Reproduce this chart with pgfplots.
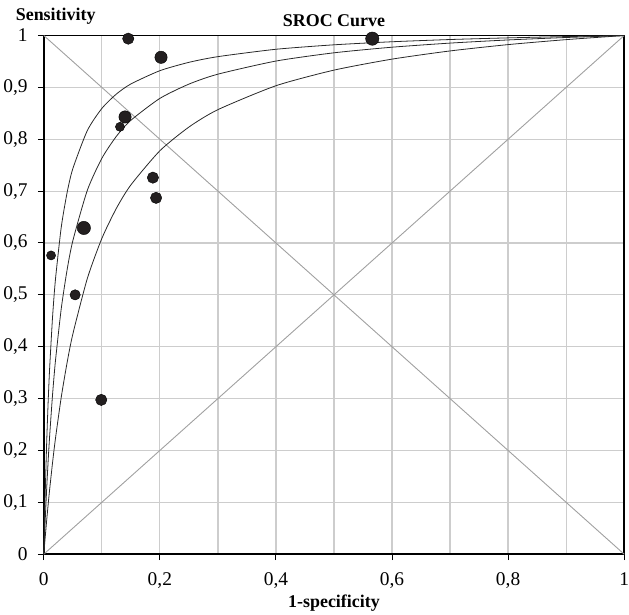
\documentclass[border=0pt]{standalone}
\usepackage{fontspec}
\setmainfont{Liberation Serif}
\usepackage{pgfplots}
\usepackage{pgfplotstable}
\pgfplotsset{compat=1.18}
\definecolor{gridgray}{RGB}{205,205,205}
\definecolor{diaggray}{RGB}{160,160,160}
\definecolor{dotblack}{RGB}{35,31,32}
\definecolor{curveblack}{RGB}{40,40,40}

% SROC curves (upper band, fitted curve, lower band)
\pgfplotstableread{
x      y
0      0
0.001  0.0522
0.002  0.0993
0.005  0.2165
0.0075 0.2936
0.01   0.3571
0.015  0.4558
0.02   0.5288
0.03   0.6298
0.04   0.6962
0.05   0.7432
0.075  0.8168
0.1    0.8594
0.125  0.8871
0.15   0.9066
0.2    0.9322
0.25   0.9483
0.3    0.9593
0.4    0.9735
0.5    0.9821
0.6    0.9880
0.7    0.9923
0.8    0.9955
0.9    0.9980
1      1
}\sroctop
\pgfplotstableread{
x      y
0      0
0.001  0.0282
0.002  0.0549
0.005  0.1272
0.0075 0.1798
0.01   0.2266
0.015  0.3063
0.02   0.3718
0.03   0.4728
0.04   0.5472
0.05   0.6042
0.075  0.7016
0.1    0.7632
0.125  0.8056
0.15   0.8365
0.2    0.8788
0.25   0.9063
0.3    0.9255
0.4    0.9508
0.5    0.9667
0.6    0.9775
0.7    0.9854
0.8    0.9915
0.9    0.9962
1      1
}\srocmid
\pgfplotstableread{
x      y
0      0
0.001  0.0138
0.002  0.0273
0.005  0.0657
0.0075 0.0957
0.01   0.1239
0.015  0.1757
0.02   0.2222
0.03   0.3022
0.04   0.3684
0.05   0.4242
0.075  0.5316
0.1    0.6087
0.125  0.6667
0.15   0.7119
0.2    0.7778
0.25   0.8235
0.3    0.8571
0.4    0.9032
0.5    0.9333
0.6    0.9545
0.7    0.9703
0.8    0.9825
0.9    0.9921
1      1
}\srocbot

\begin{document}
\begin{tikzpicture}
\begin{axis}[
  width=583pt, height=521pt, scale only axis,
  xmin=0, xmax=1, ymin=0, ymax=1,
  xtick={0,0.2,0.4,0.6,0.8,1},
  minor xtick={0.1,0.3,0.5,0.7,0.9},
  ytick={0,0.1,0.2,0.3,0.4,0.5,0.6,0.7,0.8,0.9,1},
  grid=both,
  major grid style={draw=gridgray, line width=1.2pt},
  minor grid style={draw=gridgray, line width=1.2pt},
  axis line style={line width=1.6pt, black},
  tick align=outside, tick pos=left,
  major tick length=6pt, minor tick length=0pt,
  tick style={black, line width=1pt},
  tick label style={font=\fontsize{19.5}{22}\selectfont},
  xticklabel style={anchor=north, inner sep=0pt, yshift=-12pt},
  yticklabel style={anchor=east, inner sep=0pt, xshift=-10pt},
  /pgf/number format/use comma,
  /pgf/number format/fixed,
  /pgf/number format/precision=1,
  /pgf/number format/assume math mode=true,
  xlabel={1-specificity}, ylabel={Sensitivity},
  every axis x label/.style={at={(axis description cs:0.5,0)}, anchor=base,
    yshift=-53.5pt, font=\bfseries\fontsize{18}{21}\selectfont},
  every axis y label/.style={at={(axis description cs:0,1)}, anchor=base west,
    xshift=-31.6pt, yshift=15pt, font=\bfseries\fontsize{18}{21}\selectfont},
  title={SROC Curve},
  every axis title/.style={at={(axis description cs:0.5,1)}, anchor=base,
    yshift=9pt, font=\bfseries\fontsize{18}{21}\selectfont},
  clip=false,
]
\coordinate (sw) at (rel axis cs:0,0);
\coordinate (ne) at (rel axis cs:1,1);
\addplot[diaggray, line width=0.9pt] coordinates {(0,0) (1,1)};
\addplot[diaggray, line width=0.9pt] coordinates {(0,1) (1,0)};
\addplot[curveblack, line width=0.8pt, smooth, tension=0.4] table[x=x,y=y] {\sroctop};
\addplot[curveblack, line width=0.8pt, smooth, tension=0.4] table[x=x,y=y] {\srocmid};
\addplot[curveblack, line width=0.8pt, smooth, tension=0.4] table[x=x,y=y] {\srocbot};
% study points, grouped by marker size
\addplot[only marks, mark=*, mark size=6.7pt, mark options={draw=none, fill=dotblack}]
  coordinates {(0.566,0.994) (0.069,0.629)};
\addplot[only marks, mark=*, mark size=6.2pt, mark options={draw=none, fill=dotblack}]
  coordinates {(0.140,0.843) (0.202,0.958)};
\addplot[only marks, mark=*, mark size=5.7pt, mark options={draw=none, fill=dotblack}]
  coordinates {(0.1455,0.994) (0.188,0.726) (0.1935,0.687) (0.099,0.2975)};
\addplot[only marks, mark=*, mark size=5.2pt, mark options={draw=none, fill=dotblack}]
  coordinates {(0.054,0.500)};
\addplot[only marks, mark=*, mark size=4.6pt, mark options={draw=none, fill=dotblack}]
  coordinates {(0.1313,0.824) (0.0125,0.576)};
\end{axis}
\path ([xshift=-44pt,yshift=-59.3pt]sw) rectangle ([xshift=2pt,yshift=35.7pt]ne);
\end{tikzpicture}
\end{document}
